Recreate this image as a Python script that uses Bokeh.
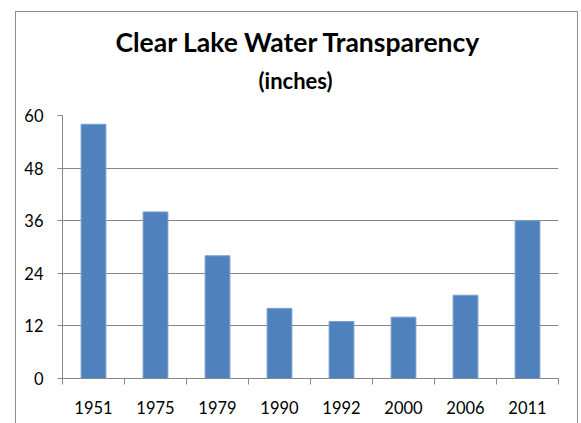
from bokeh.plotting import figure
from bokeh.models import FixedTicker, Title, Range1d, ColumnDataSource, InlineStyleSheet
from bokeh.embed import file_html
from bokeh.resources import INLINE

years = ["1951", "1975", "1979", "1990", "1992", "2000", "2006", "2011"]
transparency = [58, 38, 28, 16, 13, 14, 19, 36]
y_ticks = [0, 12, 24, 36, 48, 60]

FONT = "Lato"

x_pos = [i + 0.5 for i in range(len(years))]
src = ColumnDataSource(dict(x=x_pos, top=transparency, year=years))

p = figure(width=581, height=423, output_backend="svg", toolbar_location=None,
           x_range=Range1d(0, len(years)), y_range=Range1d(0, 60),
           min_border_left=62, min_border_right=23, min_border_top=115,
           min_border_bottom=45, title=None)

p.vbar(x="x", top="top", width=0.4, bottom=0, source=src,
       fill_color="#4F81BD", line_color="#7BA0CF", line_width=1)

sub = Title(text="(inches)", align="left", text_font=FONT,
            text_font_size="22px", text_font_style="bold", text_color="black",
            standoff=43, offset=196)
p.add_layout(sub, "above")
main = Title(text="Clear Lake Water Transparency", align="left", text_font=FONT,
             text_font_size="26.5px", text_font_style="bold", text_color="black",
             standoff=-28, offset=53)
p.add_layout(main, "above")

p.xaxis.ticker = FixedTicker(ticks=x_pos, minor_ticks=list(range(len(years) + 1)))
p.xaxis.major_label_overrides = {x: y for x, y in zip(x_pos, years)}
p.xaxis.major_tick_out = 0
p.xaxis.major_tick_in = 0
p.xaxis.minor_tick_out = 6
p.xaxis.minor_tick_in = 0
p.xaxis.major_label_standoff = 16

p.yaxis.ticker = FixedTicker(ticks=y_ticks)
p.yaxis.minor_tick_line_color = None
p.yaxis.major_tick_out = 5
p.yaxis.major_tick_in = 0
p.yaxis.major_label_standoff = 14

for ax in (p.xaxis, p.yaxis):
    ax.axis_line_color = "#868686"
    ax.major_tick_line_color = "#868686"
    ax.major_label_text_font = FONT
    ax.major_label_text_font_size = "16.5px"
    ax.major_label_text_color = "black"
p.xaxis.minor_tick_line_color = "#868686"

p.xgrid.visible = False
p.ygrid.ticker = FixedTicker(ticks=y_ticks)
p.ygrid.grid_line_color = "#868686"
p.outline_line_color = None

p.stylesheets = [InlineStyleSheet(css=""":host { position: relative; }
:host::after { content: ''; position: absolute; left: 15px; top: 11px;
  width: 563px; height: 440px; border: 1.5px solid #8C8C8C;
  pointer-events: none; box-sizing: border-box; }""")]

open("out.html", "w").write(file_html(p, INLINE))
